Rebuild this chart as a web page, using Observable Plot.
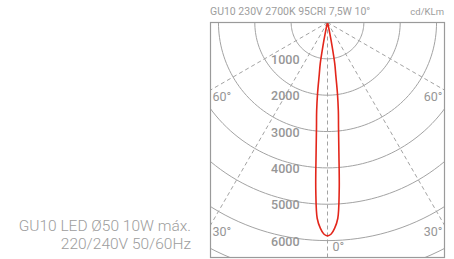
<!DOCTYPE html>
<html><head><meta charset="utf-8">
<script src="https://cdn.jsdelivr.net/npm/d3@7"></script>
<script src="https://cdn.jsdelivr.net/npm/@observablehq/plot@0.6"></script>
<style>
body{margin:0;background:#fff;}
#wrap{position:relative;width:454px;height:259px;font-family:Roboto,"Noto Sans",sans-serif;color:#9d9d9d;}
#wrap svg{position:absolute;left:0;top:0;}
.title{position:absolute;left:210px;top:5px;font-size:10.5px;white-space:nowrap;}
.unit{position:absolute;right:10px;top:6px;font-size:9.5px;white-space:nowrap;}
.prod{position:absolute;right:263px;font-size:15.5px;font-weight:300;white-space:nowrap;text-align:right;}
</style></head><body><div id="wrap"></div>
<script>
// ---- data ----
const chartTitle = "GU10 230V 2700K 95CRI 7,5W 10°";
const unitLabel = "cd/KLm";
const productLines = ["GU10 LED Ø50 10W máx.", "220/240V 50/60Hz"];
// polar intensity (cd/klm) vs angle from nadir (deg), symmetric C0-C180
const beamAngles = [0, 1, 2, 3, 4, 5, 6, 7, 8, 9, 10, 11, 12, 13, 15, 20, 30];
const beamIntensity = [5870, 5820, 5660, 5400, 4620, 3600, 2900, 2450, 1960, 1450, 1150, 660, 280, 120, 40, 10, 0];
const ringValues = [1000, 2000, 3000, 4000, 5000, 6000, 7000];
const ringLabelValues = [1000, 2000, 3000, 4000, 5000, 6000];
const radialAngles = [-60, -30, 0, 30, 60];
const sideAngleLabels = [60, 30];
const zeroLabel = "0°";

// ---- build ----
const rad = d => d * Math.PI / 180;
const xMax = 3219, yMax = 6465;

const curve = [];
for (let i = beamAngles.length - 1; i > 0; i--) curve.push({a: -beamAngles[i], v: beamIntensity[i]});
for (let i = 0; i < beamAngles.length; i++) curve.push({a: beamAngles[i], v: beamIntensity[i]});

const rings = [];
for (const r of ringValues) for (let a = -90; a <= 90; a += 2) rings.push({r, a});

const radial = radialAngles.map(a => ({a, R: 9000}));

const sideLabels = sideAngleLabels.map(a => ({a, text: a + "°"}));

const grey = "#a3a3a3";
const labelFill = "#969696";
const plot = Plot.plot({
  width: 454, height: 259,
  marginLeft: 210, marginRight: 10, marginTop: 22, marginBottom: 2,
  x: {domain: [-xMax, xMax], axis: null},
  y: {domain: [0, yMax], reverse: true, axis: null},
  style: {fontFamily: "Roboto, sans-serif", background: "transparent"},
  marks: [
    Plot.line(rings, {x: d => d.r * Math.sin(rad(d.a)), y: d => d.r * Math.cos(rad(d.a)), z: "r", stroke: grey, strokeWidth: 1, clip: true}),
    Plot.link(radial, {x1: 0, y1: 0, x2: d => d.R * Math.sin(rad(d.a)), y2: d => d.R * Math.cos(rad(d.a)), stroke: grey, strokeWidth: 1, strokeDasharray: "4,3", clip: true}),
    Plot.text(ringLabelValues, {x: 0, y: d => d, text: d => String(d), dx: -28, dy: 1, textAnchor: "end", fill: labelFill, fontSize: 12.5, fontWeight: 500}),
    Plot.text(sideLabels, {x: -xMax, y: d => xMax / Math.tan(rad(d.a)), text: "text", textAnchor: "start", dx: 2, lineAnchor: "top", dy: 2, fill: labelFill, fontSize: 12.5}),
    Plot.text(sideLabels, {x: xMax, y: d => xMax / Math.tan(rad(d.a)), text: "text", textAnchor: "end", dx: -2, lineAnchor: "top", dy: 2, fill: labelFill, fontSize: 12.5}),
    Plot.text([zeroLabel], {x: 0, y: 6000, text: d => d, textAnchor: "start", lineAnchor: "top", dx: 5, dy: 2, fill: labelFill, fontSize: 12.5}),
    Plot.line(curve, {x: d => d.v * Math.sin(rad(d.a)), y: d => d.v * Math.cos(rad(d.a)), stroke: "#e3261b", strokeWidth: 1.6, curve: "catmull-rom", clip: true}),
    Plot.frame({stroke: "#9a9a9a", strokeWidth: 1.2})
  ]
});
const wrap = document.getElementById("wrap");
wrap.appendChild(plot);
const t = document.createElement("div"); t.className = "title"; t.textContent = chartTitle; wrap.appendChild(t);
const u = document.createElement("div"); u.className = "unit"; u.textContent = unitLabel; wrap.appendChild(u);
productLines.forEach((s, i) => {
  const p = document.createElement("div"); p.className = "prod"; p.style.top = (217 + i * 18) + "px"; p.textContent = s; wrap.appendChild(p);
});
</script></body></html>
